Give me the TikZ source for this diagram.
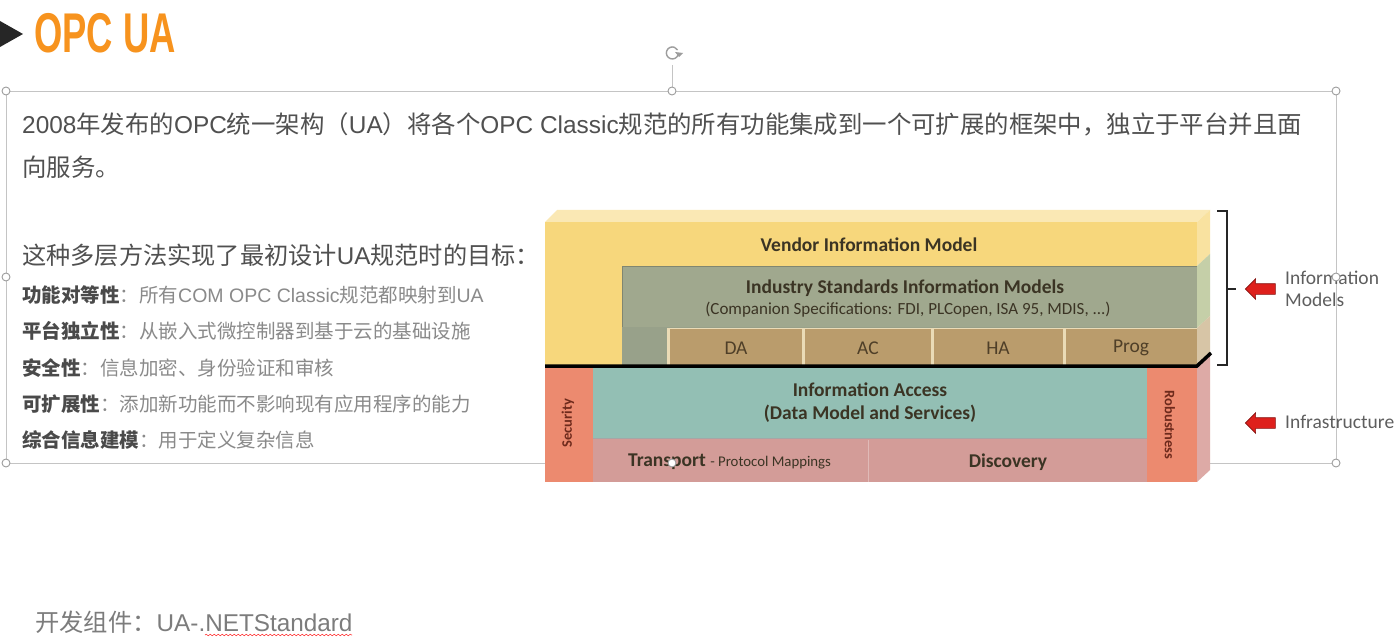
\documentclass[tikz,border=0pt]{standalone}
\usepackage{fontspec}
\usepackage{graphicx}
\usetikzlibrary{shapes.arrows,decorations.pathmorphing}
\setmainfont{Noto Sans CJK SC}
\newfontfamily\latf{Liberation Sans}
\newfontfamily\calib{Carlito}
\definecolor{orangeT}{HTML}{F7931E}
\definecolor{txtA}{HTML}{505050}
\definecolor{txtB}{HTML}{4A4A4A}
\definecolor{txtC}{HTML}{8A8A8A}
\definecolor{selc}{HTML}{C4C4C4}
\definecolor{yel}{HTML}{F7D77C}
\definecolor{yelTop}{HTML}{FAE8B4}
\definecolor{yelSide}{HTML}{F9E2A0}
\definecolor{grn}{HTML}{A0A88E}
\definecolor{grn2}{HTML}{98A18A}
\definecolor{grnSide}{HTML}{C5CFA8}
\definecolor{brn}{HTML}{BA9C6C}
\definecolor{brnSide}{HTML}{D7C5A6}
\definecolor{cream}{HTML}{EADBB6}
\definecolor{tealc}{HTML}{93BFB4}
\definecolor{pinkc}{HTML}{D39C98}
\definecolor{pinkSide}{HTML}{DDAAA6}
\definecolor{salm}{HTML}{EC8A6F}
\definecolor{dtxt}{HTML}{3B3424}
\definecolor{redtxt}{HTML}{6E2A1C}
\definecolor{arrred}{HTML}{DE201C}
\definecolor{lbl}{HTML}{5E5E5E}
\tikzset{
  selline/.style={draw=selc, line width=0.8pt},
  handle/.style={circle, draw=selc!80!black, fill=white, line width=0.9pt, minimum size=8pt, inner sep=0pt},
  line1/.style={anchor=west, inner sep=0pt, text=txtA, font=\fontsize{24.4}{28}\selectfont},
  head2/.style={anchor=west, inner sep=0pt, text=txtA, font=\fontsize{24.2}{28}\selectfont},
  bullet/.style={anchor=west, inner sep=0pt, text=txtC, font=\fontsize{19.5}{22}\selectfont},
  dlab/.style={inner sep=0pt, text=dtxt, font=\calib\bfseries\fontsize{19.5}{22}\selectfont},
  dsub/.style={inner sep=0pt, text=dtxt, font=\calib\fontsize{17}{20}\selectfont},
  cell/.style={inner sep=0pt, text=dtxt!85!brown, font=\calib\fontsize{19.5}{22}\selectfont},
  vlab/.style={inner sep=0pt, text=redtxt, font=\calib\bfseries\fontsize{14.5}{16}\selectfont},
  redarrow/.style={single arrow, shape border rotate=180, fill=arrred, draw=arrred!60!black, line width=0.6pt,
     minimum height=30pt, inner xsep=0pt, inner ysep=5pt, single arrow head extend=5pt, single arrow head indent=0pt},
  sidelab/.style={anchor=west, inner sep=0pt, text=lbl, font=\calib\fontsize{19.5}{22}\selectfont, align=left},
}
\begin{document}
\begin{tikzpicture}[x=1pt,y=-1pt]
\useasboundingbox (0,0) rectangle (1399,644);
\fill[white] (0,0) rectangle (1399,644);

% ---- title
\fill[black!85] (0,21) -- (23,34) -- (0,47) -- cycle;
\node[anchor=west, inner sep=0pt, text=orangeT] (title) at (34,33)
  {\latf\bfseries\fontsize{56}{56}\selectfont\scalebox{0.65}[1]{OPC UA}};

% ---- selection frame
\draw[selline] (6,91) rectangle (1336,463);
\draw[selline] (672,65) -- (672,91);
\draw[selc!80!black, line width=1.4pt] (678,55) arc (20:330:6);
\fill[selc!80!black] (679,57) -- (683,53) -- (675,52) -- cycle;

% ---- text block
\node[line1] (t1) at (22,124) {{\latf 2008}年发布的{\latf OPC}统一架构（{\latf UA}）将各个{\latf OPC Classic}规范的所有功能集成到一个可扩展的框架中，独立于平台并且面};
\node[line1] (t2) at (22,167) {向服务。};
\node[head2] (h2) at (22,255) {这种多层方法实现了最初设计{\latf UA}规范时的目标：};
\node[bullet] (b1) at (22,295) {{\bfseries\color{txtB}功能对等性}：所有{\latf COM OPC Classic}规范都映射到{\latf UA}};
\node[bullet] (b2) at (22,331) {{\bfseries\color{txtB}平台独立性}：从嵌入式微控制器到基于云的基础设施};
\node[bullet] (b3) at (22,368) {{\bfseries\color{txtB}安全性}：信息加密、身份验证和审核};
\node[bullet] (b4) at (22,404) {{\bfseries\color{txtB}可扩展性}：添加新功能而不影响现有应用程序的能力};
\node[bullet] (b5) at (22,440) {{\bfseries\color{txtB}综合信息建模}：用于定义复杂信息};

\node[anchor=west, inner sep=0pt, text=txtC!90!black, font=\fontsize{24.3}{28}\selectfont] (dev) at (35,622)
  {开发组件：{\latf UA-.NETStandard}};
\draw[red!75, line width=0.6pt, decorate, decoration={snake, amplitude=0.8pt, segment length=4pt}] (205,635) -- (352,635);

% ---- stack: upper (information models)
\fill[yelTop] (545,222) -- (557,210) -- (1210,210) -- (1197,222) -- cycle;
\fill[yel] (545,222) rectangle (1197,366);
\fill[yelSide] (1197,222) -- (1210,210) -- (1210,254) -- (1197,266) -- cycle;
\fill[grn] (622,266) rectangle (1197,327);
\draw[grn!80!black, line width=0.8pt] (622,366) -- (622,266.5) -- (1197,266.5);
\fill[grn2] (622,327) rectangle (1197,366);
\fill[grnSide] (1197,266) -- (1210,254) -- (1210,316) -- (1197,328) -- cycle;
\fill[cream] (667,328) rectangle (1197,366);
\fill[brn] (670,329) rectangle (802,366);
\fill[brn] (805,329) rectangle (931,366);
\fill[brn] (934,329) rectangle (1063,366);
\fill[brn] (1066,329) rectangle (1197,366);
\fill[brnSide] (1197,328) -- (1210,316) -- (1210,353) -- (1197,366) -- cycle;

\node[dlab] (vendor) at (869,245) {Vendor Information Model};
\node[dlab] (industry) at (905,288) {Industry Standards Information Models};
\node[dsub] (companion) at (908,310) {(Companion Specifications: FDI, PLCopen, ISA 95, MDIS, ...)};
\node[cell] (da) at (736,348) {DA};
\node[cell] (ac) at (868,348) {AC};
\node[cell] (ha) at (998,348) {HA};
\node[cell] (prog) at (1131,348) {Prog};

% ---- stack: lower (infrastructure)
\fill[pinkc] (593,439) rectangle (1147,482);
\fill[tealc] (593,368) rectangle (1147,438);
\draw[black!35, line width=0.8pt] (593,438.5) -- (1147,438.5);
\draw[pinkc!70!white, line width=1pt] (868,440) -- (868,482);
\fill[salm] (545,368) rectangle (593,482);
\fill[salm] (1147,368) rectangle (1197,482);
\fill[pinkSide] (1197,368) -- (1210,355) -- (1210,470) -- (1197,482) -- cycle;
\draw[line width=3.5pt] (545,366) -- (1197,366) -- (1211,353);

\node[dlab] (access) at (870,390) {Information Access};
\node[dlab] (access2) at (870,414) {(Data Model and Services)};
\node[dlab, anchor=west] (transport) at (628,462) {Transport};
\node[dsub, anchor=base west, font=\calib\fontsize{14.8}{17}\selectfont] (proto) at ([xshift=4pt]transport.base east) {- Protocol Mappings};
\node[dlab] (discovery) at (1008,462) {Discovery};
\node[vlab, rotate=90] (security) at (568,423) {Security};
\node[vlab, rotate=-90] (robust) at (1170,425) {Robustness};

% ---- bracket, arrows, labels
\coordinate (bt) at (1217,211);
\coordinate (bb) at (1217,365);
\draw[line width=2.2pt, black!85] (bt) -- (1227,211) -- (1227,365) -- (bb);
\draw[line width=2.2pt, black!85] (1227,289) -- (1236,289);
\node[redarrow] (arr1) at (1263,289) {};
\node[redarrow] (arr2) at (1263,423) {};
\node[sidelab] (infomod) at (1285,289) {Information\\Models};
\node[sidelab] (infra) at (1285,422) {Infrastructure};

% ---- selection handles
\foreach \p/\n in {{6,91}/h1,{672,91}/h2,{1336,91}/h3,{6,277}/h4,{1336,277}/h5,{6,463}/h6,{672,463}/h7,{1336,463}/h8}
  \node[handle] (\n) at (\p) {};
\end{tikzpicture}
\end{document}
